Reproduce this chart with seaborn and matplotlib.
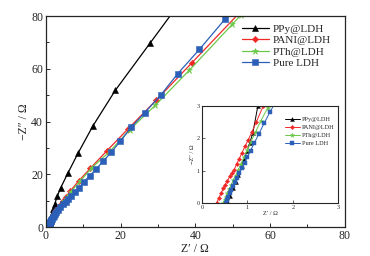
import matplotlib
matplotlib.use("Agg")
import matplotlib.pyplot as plt
import seaborn as sns
from matplotlib.ticker import MultipleLocator

sns.set_style("ticks")
plt.rcParams['font.family'] = ['Liberation Serif', 'DejaVu Serif']
plt.rcParams['mathtext.fontset'] = 'stix'

# Data: Z' (x) and -Z'' (y) in ohm
ppy_x = [0.57, 0.62, 0.68, 0.74, 0.80, 0.87, 0.93, 0.99, 1.05, 1.12, 1.23, 1.40, 1.65, 2.0, 2.4, 3.0, 4.0, 5.9, 8.6, 12.6, 18.6, 27.9, 34.5]
ppy_y = [0.0, 0.22, 0.45, 0.66, 0.88, 1.13, 1.37, 1.60, 1.85, 2.17, 3.0, 3.9, 5.1, 6.9, 8.8, 11.6, 15.0, 20.5, 28.0, 38.4, 51.9, 69.8, 82.5]

pani_x = [0.32, 0.37, 0.42, 0.47, 0.51, 0.56, 0.61, 0.66, 0.71, 0.76, 0.82, 0.88, 0.95, 1.02, 1.10, 1.20, 1.35, 1.55, 1.8, 2.1, 2.5, 3.0, 3.7, 4.6, 5.5, 6.4, 8.8, 11.9, 16.3, 21.9, 29.5, 39.0, 51.5]
pani_y = [0.0, 0.15, 0.30, 0.45, 0.57, 0.69, 0.82, 0.93, 1.03, 1.20, 1.37, 1.55, 1.76, 1.96, 2.20, 2.52, 3.0, 3.6, 4.3, 5.1, 6.0, 7.0, 8.3, 9.8, 11.5, 13.5, 17.5, 22.3, 28.9, 37.1, 48.1, 62.2, 80.8]

pth_x = [0.47, 0.50, 0.53, 0.56, 0.60, 0.64, 0.69, 0.74, 0.80, 0.86, 0.93, 1.00, 1.08, 1.18, 1.30, 1.45, 1.62, 1.85, 2.1, 2.45, 2.9, 3.4, 4.0, 4.8, 5.7, 6.6, 9.1, 12.3, 17.1, 22.5, 29.3, 38.4, 49.9, 52.2]
pth_y = [0.0, 0.10, 0.20, 0.30, 0.42, 0.55, 0.70, 0.85, 1.03, 1.22, 1.43, 1.65, 1.90, 2.20, 2.55, 2.95, 3.4, 4.0, 4.6, 5.4, 6.4, 7.4, 8.5, 9.9, 11.5, 13.3, 17.3, 22.5, 28.7, 37.0, 46.2, 59.5, 76.9, 80.5]

pure_x = [0.52, 0.55, 0.58, 0.61, 0.64, 0.68, 0.72, 0.77, 0.82, 0.88, 0.94, 1.00, 1.07, 1.15, 1.25, 1.37, 1.50, 1.65, 1.85, 2.1, 2.4, 2.8, 3.3, 3.9, 4.6, 5.3, 6.0, 6.8, 7.7, 8.9, 10.1, 11.7, 13.5, 15.3, 17.5, 19.9, 22.8, 26.4, 30.7, 35.3, 41.1, 47.9, 49.6]
pure_y = [0.0, 0.10, 0.20, 0.30, 0.40, 0.52, 0.64, 0.78, 0.92, 1.08, 1.25, 1.42, 1.62, 1.85, 2.13, 2.47, 2.82, 3.2, 3.65, 4.2, 4.8, 5.6, 6.5, 7.5, 8.6, 9.6, 10.6, 11.9, 13.3, 15.0, 17.0, 19.4, 22.1, 24.9, 28.4, 32.5, 37.8, 43.3, 50.0, 58.2, 67.4, 78.8, 81.6]

labels = ["PPy@LDH", "PANI@LDH", "PTh@LDH", "Pure LDH"]
colors = ["#000000", "#f02828", "#6cc84a", "#2b5fb8"]
markers = ["^", "D", "*", "s"]
series = [(ppy_x, ppy_y), (pani_x, pani_y), (pth_x, pth_y), (pure_x, pure_y)]
msizes_main = [4.2, 3.2, 5.0, 3.8]
msizes_in = [2.8, 2.2, 3.4, 2.6]

fig = plt.figure(figsize=(3.7, 2.56), dpi=100)
ax = fig.add_axes([0.124, 0.113, 0.808, 0.824])

for (x, y), lab, c, m, ms in zip(series, labels, colors, markers, msizes_main):
    sns.lineplot(x=x, y=y, ax=ax, sort=False, estimator=None, color=c,
                 marker=m, markersize=ms, markeredgewidth=0.4, markeredgecolor=c,
                 linewidth=0.9, label=lab)

ax.set_xlim(0, 80)
ax.set_ylim(0, 80)
ax.xaxis.set_major_locator(MultipleLocator(20))
ax.yaxis.set_major_locator(MultipleLocator(20))
ax.xaxis.set_minor_locator(MultipleLocator(10))
ax.yaxis.set_minor_locator(MultipleLocator(10))
ax.tick_params(which='both', direction='in', labelsize=8.5, width=0.7, pad=2)
ax.tick_params(which='major', length=3)
ax.tick_params(which='minor', length=2)
for s in ax.spines.values():
    s.set_linewidth(0.9)
ax.set_xlabel("Z\u2032 / \u03a9", fontsize=8.5, labelpad=1)
ax.set_ylabel("\u2212Z\u2033 / \u03a9", fontsize=8.5, labelpad=1)
ax.legend(loc='upper left', bbox_to_anchor=(0.63, 1.0), frameon=False,
          fontsize=8, handlelength=2.4, handletextpad=0.4, labelspacing=0.15,
          borderaxespad=0.3)

# inset
axin = fig.add_axes([0.546, 0.207, 0.368, 0.379])
for (x, y), lab, c, m, ms in zip(series, labels, colors, markers, msizes_in):
    sns.lineplot(x=x, y=y, ax=axin, sort=False, estimator=None, color=c,
                 marker=m, markersize=ms, markeredgewidth=0.3, markeredgecolor=c,
                 linewidth=0.7, label=lab)
axin.set_xlim(0, 3)
axin.set_ylim(0, 3)
axin.xaxis.set_major_locator(MultipleLocator(1))
axin.yaxis.set_major_locator(MultipleLocator(1))
axin.tick_params(which='both', direction='in', labelsize=4.5, width=0.5, length=2, pad=1.5)
for s in axin.spines.values():
    s.set_linewidth(0.8)
axin.set_xlabel("Z\u2032 / \u03a9", fontsize=4.5, labelpad=1)
axin.set_ylabel("\u2212Z\u2033 / \u03a9", fontsize=4.5, labelpad=1)
axin.legend(loc='upper left', bbox_to_anchor=(0.58, 0.93), frameon=False,
            fontsize=4.5, handlelength=2.4, handletextpad=0.4, labelspacing=0.45,
            borderaxespad=0.2)

fig.savefig("out.png", dpi=100)
